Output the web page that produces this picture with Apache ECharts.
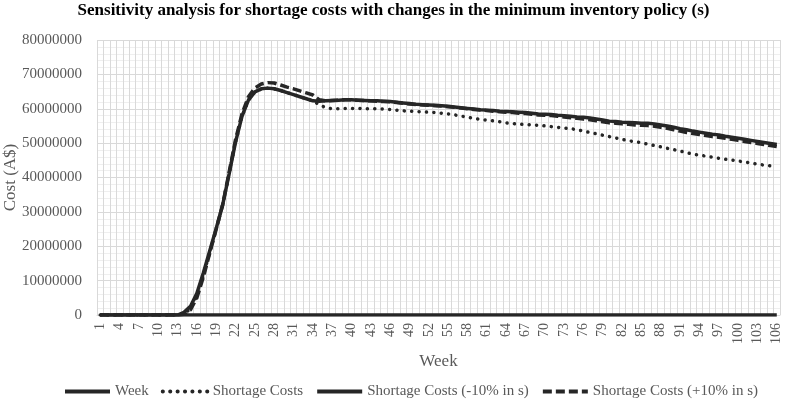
<!DOCTYPE html>
<html>
<head>
<meta charset="utf-8">
<script src="https://cdn.jsdelivr.net/npm/echarts@6/dist/echarts.min.js"></script>
<style>html,body{margin:0;padding:0;background:#fff}#c{width:787px;height:404px}</style>
</head>
<body>
<div id="c"></div>
<script>
const weeks = [];
for (let w = 1; w <= 106; w++) weeks.push(w);
const yTicks = [0, 10000000, 20000000, 30000000, 40000000, 50000000, 60000000, 70000000, 80000000];

const shortageCosts = [
0,0,0,0,0,0,0,0,0,0,0,0,0,
300000,1800000,5500000,11500000,18300000,25000000,32000000,41000000,50300000,57800000,62500000,64900000,65800000,66000000,65800000,65300000,64700000,64100000,63500000,62900000,62300000,
61200000,60300000,60000000,60000000,60100000,60100000,60100000,60000000,60000000,60000000,59900000,59800000,59600000,59400000,59300000,59200000,
59100000,59000000,58900000,58700000,58500000,58200000,57900000,57500000,57200000,56900000,56700000,56500000,56200000,55900000,55700000,55500000,
55400000,55300000,55200000,55000000,54800000,54600000,54400000,54200000,53900000,53500000,53100000,52700000,52300000,51900000,51500000,51100000,
50700000,50400000,50100000,49700000,49300000,48900000,48500000,48100000,47700000,47200000,46800000,46500000,46200000,45900000,45600000,45300000,
45100000,44800000,44500000,44200000,43900000,43600000,43400000,43200000
];

const shortageMinus10 = [
0,0,0,0,0,0,0,0,0,0,0,0,0,
800000,2500000,6300000,12200000,18700000,25200000,32000000,41000000,50300000,57800000,62500000,64900000,65800000,66000000,65800000,65300000,64700000,64100000,63500000,62900000,62300000,
62200000,62300000,62400000,62500000,62600000,62600000,62500000,62400000,62300000,62300000,62200000,62100000,61900000,61700000,61500000,61300000,
61200000,61100000,61000000,60900000,60700000,60500000,60300000,60100000,59900000,59700000,59600000,59500000,59300000,59200000,59100000,59000000,
58900000,58700000,58500000,58400000,58300000,58100000,58000000,57800000,57600000,57500000,57300000,57000000,56700000,56400000,56300000,56100000,
56000000,55900000,55800000,55800000,55600000,55300000,55000000,54600000,54200000,53900000,53500000,53200000,52900000,52600000,52400000,52000000,
51700000,51400000,51100000,50800000,50500000,50200000,49900000,49600000
];

const shortagePlus10 = [
0,0,0,0,0,0,0,0,0,0,0,0,0,
200000,1500000,5000000,11000000,18000000,25000000,32000000,41500000,51000000,58500000,63500000,66000000,67200000,67600000,67500000,66900000,66300000,65800000,65200000,64600000,64000000,
62600000,62300000,62400000,62500000,62600000,62600000,62500000,62400000,62300000,62200000,62100000,62000000,61800000,61600000,61400000,61200000,
61100000,61000000,60900000,60800000,60600000,60400000,60200000,60000000,59800000,59600000,59500000,59300000,59100000,59000000,58900000,58700000,
58600000,58400000,58200000,58100000,58000000,57800000,57600000,57400000,57200000,57000000,56800000,56500000,56200000,55900000,55800000,55600000,
55500000,55300000,55200000,55100000,54900000,54600000,54300000,53900000,53500000,53100000,52800000,52500000,52200000,51900000,51700000,51400000,
51100000,50800000,50500000,50200000,49900000,49600000,49300000,49000000
];

const seriesNames = ['Week', 'Shortage Costs', 'Shortage Costs (-10% in s)', 'Shortage Costs (+10% in s)'];
const lineColor = '#262626';
const textColor = '#595959';
const font = 'Liberation Serif';

const chart = echarts.init(document.getElementById('c'), null, {renderer: 'canvas'});
chart.setOption({
  animation: false,
  backgroundColor: '#fff',
  title: {
    text: 'Sensitivity analysis for shortage costs with changes in the minimum inventory policy (s)',
    left: 'center', top: -3,
    textStyle: {fontFamily: font, fontWeight: 'bold', fontSize: 17, color: '#000'}
  },
  legend: {
    data: seriesNames,
    left: 58, top: 379,
    itemWidth: 45, itemHeight: 12, itemGap: 12,
    itemStyle: {opacity: 0, borderWidth: 0},
    lineStyle: {width: 4},
    textStyle: {fontFamily: font, fontSize: 15, color: textColor}
  },
  grid: {left: 97, right: 7, top: 40, bottom: 89, containLabel: false, outerBoundsMode: 'none'},
  xAxis: {
    type: 'category',
    data: weeks,
    boundaryGap: true,
    name: 'Week', nameLocation: 'middle', nameGap: 38, nameMoveOverlap: false,
    nameTextStyle: {fontFamily: font, fontSize: 17, color: textColor},
    axisLine: {show: true, lineStyle: {color: '#d9d9d9'}},
    axisTick: {show: false},
    axisLabel: {interval: 2, rotate: 90, fontFamily: font, fontSize: 14, color: textColor, margin: 8},
    splitLine: {show: true, interval: 0, lineStyle: {color: '#d9d9d9', width: 1}}
  },
  yAxis: {
    type: 'value', min: yTicks[0], max: yTicks[yTicks.length - 1], interval: yTicks[1] - yTicks[0],
    name: 'Cost (A$)', nameLocation: 'middle', nameGap: 78, nameMoveOverlap: false,
    nameTextStyle: {fontFamily: font, fontSize: 17, color: textColor},
    axisLine: {show: false}, axisTick: {show: false},
    axisLabel: {fontFamily: font, fontSize: 15, color: textColor, margin: 15,
      formatter: function (v) { return String(v); }},
    splitLine: {show: true, lineStyle: {color: '#d9d9d9', width: 1}},
    minorTick: {show: false, splitNumber: 5},
    minorSplitLine: {show: true, lineStyle: {color: '#efefef', width: 1}}
  },
  series: [
    {name: seriesNames[0], type: 'line', data: weeks, symbol: 'none', z: 5,
     lineStyle: {color: lineColor, width: 3.5}, itemStyle: {color: lineColor}},
    {name: seriesNames[1], type: 'line', data: shortageCosts, symbol: 'none', z: 3,
     lineStyle: {color: lineColor, width: 3.5, type: [0.1, 7.3], cap: 'round'}, itemStyle: {color: lineColor}},
    {name: seriesNames[2], type: 'line', data: shortageMinus10, symbol: 'none', z: 4,
     lineStyle: {color: lineColor, width: 3.5}, itemStyle: {color: lineColor}},
    {name: seriesNames[3], type: 'line', data: shortagePlus10, symbol: 'none', z: 2,
     lineStyle: {color: lineColor, width: 3.5, type: [9, 4]}, itemStyle: {color: lineColor}}
  ]
});
</script>
</body>
</html>
